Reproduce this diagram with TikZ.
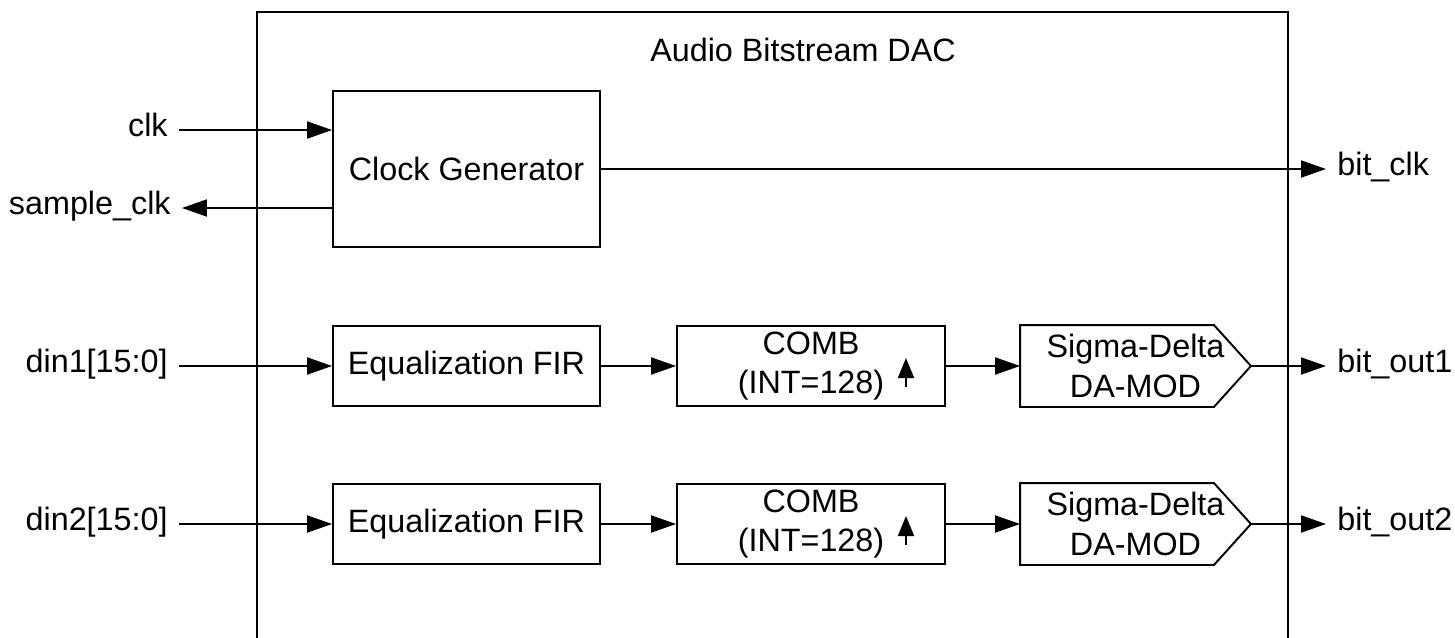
\documentclass[tikz,border=0pt]{standalone}
\usepackage{fontspec}
\setmainfont{Liberation Sans}
\usetikzlibrary{arrows.meta,calc}

\begin{document}
\begin{tikzpicture}[x=0.02cm,y=-0.02cm,
  font=\fontsize{18.4}{22.5}\selectfont,
  bloc/.style={draw,line width=1.1pt,align=center,inner sep=0pt,minimum height=1.6cm},
  fil/.style={line width=1.1pt,-{Triangle[length=0.5cm,width=0.34cm]}},
  port/.style={inner sep=0pt,inner xsep=0.22cm,text height=1.38ex,text depth=0pt}]
  \useasboundingbox (0,0) rectangle (1455,637);
  % Boîte principale
  \draw[line width=1.1pt] (257,650) -- (257,12) -- (1288,12) -- (1288,650);
  \node (titre) at (803,50) {Audio Bitstream DAC};
  % Générateur d'horloge
  \node[bloc,minimum width=5.34cm,minimum height=3.12cm] (clkgen) at (466.5,169) {Clock Generator};
  \node[port,anchor=east] (clk) at (179,130) {clk};
  \node[port,anchor=east] (sclk) at (182,208) {sample\_clk};
  \node[port,anchor=west] (bitclk) at (1326,169) {bit\_clk};
  \draw[fil] (clk.east) -- (clk.east -| clkgen.west);
  \draw[fil] (sclk.east -| clkgen.west) -- (sclk.east);
  \draw[fil] (clkgen) -- (bitclk);
  % Voie 1
  \node[bloc,minimum width=5.34cm] (eq1) at (466.5,366) {Equalization FIR};
  \node[bloc,minimum width=5.36cm] (comb1) at (811,366) {COMB\\(INT=128)};
  \node[bloc,draw=none,minimum width=4.58cm] (sd1) at (1135.5,366) {Sigma-Delta\\DA-MOD};
  \draw[line width=1.1pt] (sd1.north west) -- ([xshift=-0.74cm]sd1.north east) -- (sd1.east)
    -- ([xshift=-0.74cm]sd1.south east) -- (sd1.south west) -- cycle;
  \draw[line width=1.1pt,-{Triangle[length=0.4cm,width=0.32cm]}] ($(comb1)+(95,21)$) -- ($(comb1)+(95,-8)$);
  \node[port,anchor=east] (din1) at (179,366) {din1[15:0]};
  \node[port,anchor=west] (out1) at (1326,366) {bit\_out1};
  \draw[fil] (din1) -- (eq1);
  \draw[fil] (eq1) -- (comb1);
  \draw[fil] (comb1) -- (sd1);
  \draw[fil] (sd1.east) -- (out1);
  % Voie 2
  \node[bloc,minimum width=5.34cm] (eq2) at (466.5,524) {Equalization FIR};
  \node[bloc,minimum width=5.36cm] (comb2) at (811,524) {COMB\\(INT=128)};
  \node[bloc,draw=none,minimum width=4.58cm] (sd2) at (1135.5,524) {Sigma-Delta\\DA-MOD};
  \draw[line width=1.1pt] (sd2.north west) -- ([xshift=-0.74cm]sd2.north east) -- (sd2.east)
    -- ([xshift=-0.74cm]sd2.south east) -- (sd2.south west) -- cycle;
  \draw[line width=1.1pt,-{Triangle[length=0.4cm,width=0.32cm]}] ($(comb2)+(95,21)$) -- ($(comb2)+(95,-8)$);
  \node[port,anchor=east] (din2) at (179,524) {din2[15:0]};
  \node[port,anchor=west] (out2) at (1326,524) {bit\_out2};
  \draw[fil] (din2) -- (eq2);
  \draw[fil] (eq2) -- (comb2);
  \draw[fil] (comb2) -- (sd2);
  \draw[fil] (sd2.east) -- (out2);
\end{tikzpicture}
\end{document}
